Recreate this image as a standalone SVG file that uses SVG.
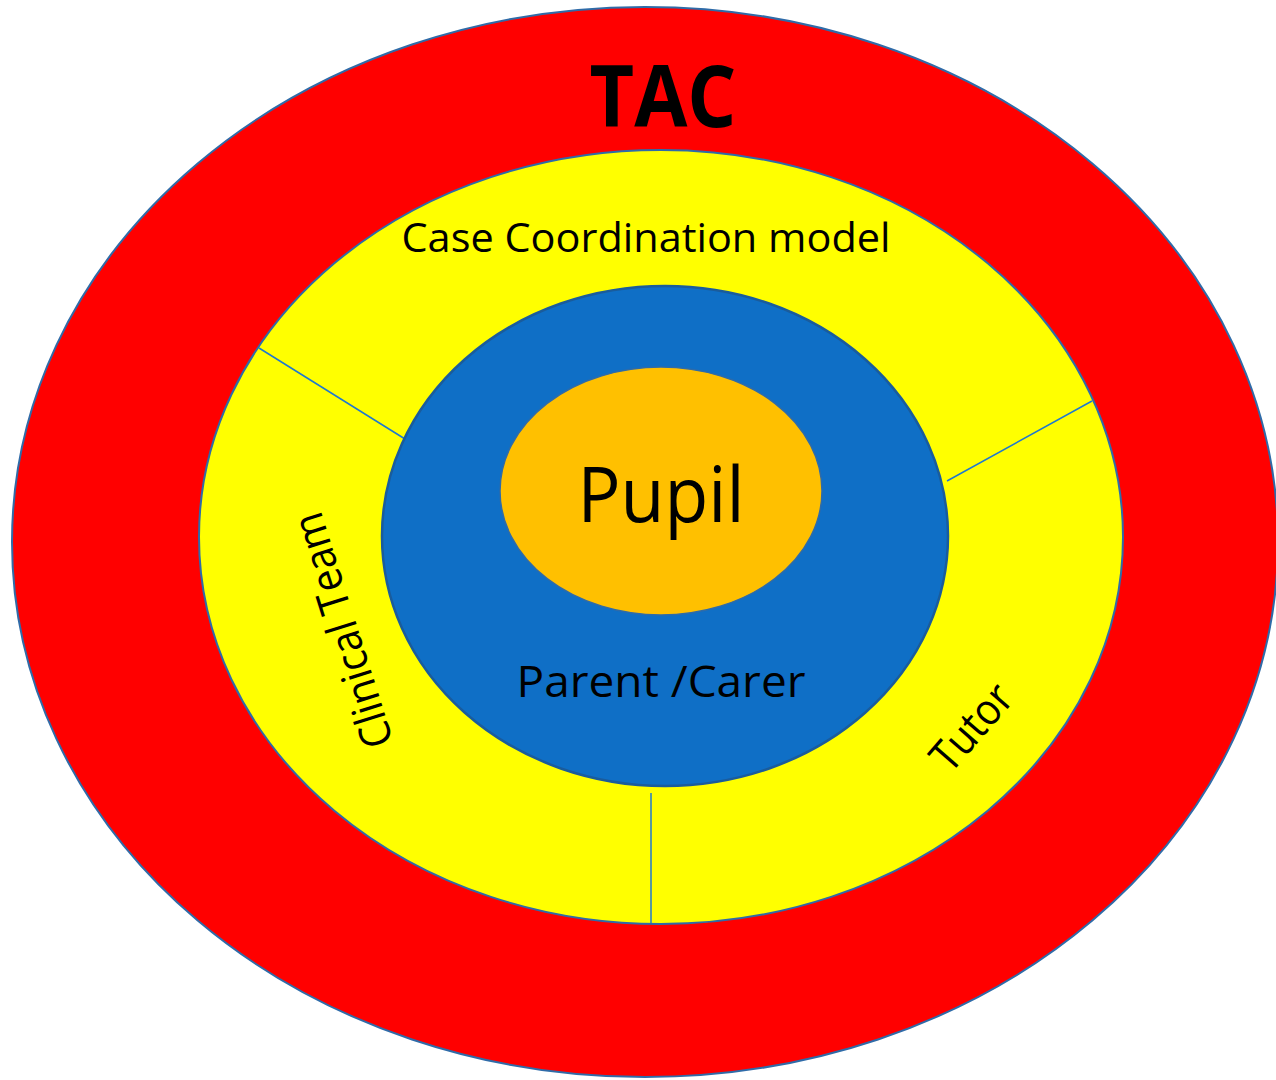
<svg xmlns="http://www.w3.org/2000/svg" width="1276" height="1080" viewBox="0 0 1276 1080">
<style>
.ring{stroke:#2F6BA8;stroke-width:2}
.sep{stroke:#1F78D0;stroke-width:1.5;fill:none}
.lbl{font-family:"Open Sans","Liberation Sans",sans-serif;fill:#000}
</style>
<rect width="1276" height="1080" fill="#FFFFFF"/>
<g id="tac"><ellipse class="ring" cx="645" cy="542" rx="633" ry="535" fill="#FF0000"/>
<text class="lbl" x="663" y="127" font-size="86" font-weight="bold" text-anchor="middle" textLength="147" lengthAdjust="spacingAndGlyphs">TAC</text></g>
<g id="case"><ellipse class="ring" cx="661" cy="537" rx="462" ry="387" fill="#FFFF00"/>
<text class="lbl" x="646" y="252" font-size="40" text-anchor="middle" textLength="489" lengthAdjust="spacingAndGlyphs">Case Coordination model</text></g>
<g id="connectors">
<line class="sep" x1="259" y1="348" x2="405" y2="439"/>
<line class="sep" x1="1092" y1="401" x2="947" y2="481"/>
<line class="sep" x1="651" y1="793" x2="651" y2="923"/>
</g>
<g id="clinical"><text class="lbl" x="0" y="0" font-size="43" text-anchor="middle" textLength="244" lengthAdjust="spacingAndGlyphs" transform="translate(357,626) rotate(-107.5)">Clinical Team</text></g>
<g id="tutor"><text class="lbl" x="0" y="0" font-size="44" text-anchor="middle" textLength="100" lengthAdjust="spacingAndGlyphs" transform="translate(983,737) rotate(-49)">Tutor</text></g>
<g id="parent"><ellipse cx="665" cy="536" rx="283" ry="250" fill="#0F6FC6" stroke="#1A5C9C" stroke-width="2.5"/>
<text class="lbl" x="661" y="697" font-size="44" text-anchor="middle" textLength="289" lengthAdjust="spacingAndGlyphs">Parent /Carer</text></g>
<g id="pupil"><ellipse cx="661" cy="491" rx="161" ry="124" fill="#FFC000" stroke="#2F6BA8" stroke-width="1.5"/>
<text class="lbl" x="661" y="522" font-size="76" text-anchor="middle" textLength="167" lengthAdjust="spacingAndGlyphs">Pupil</text></g>
</svg>
